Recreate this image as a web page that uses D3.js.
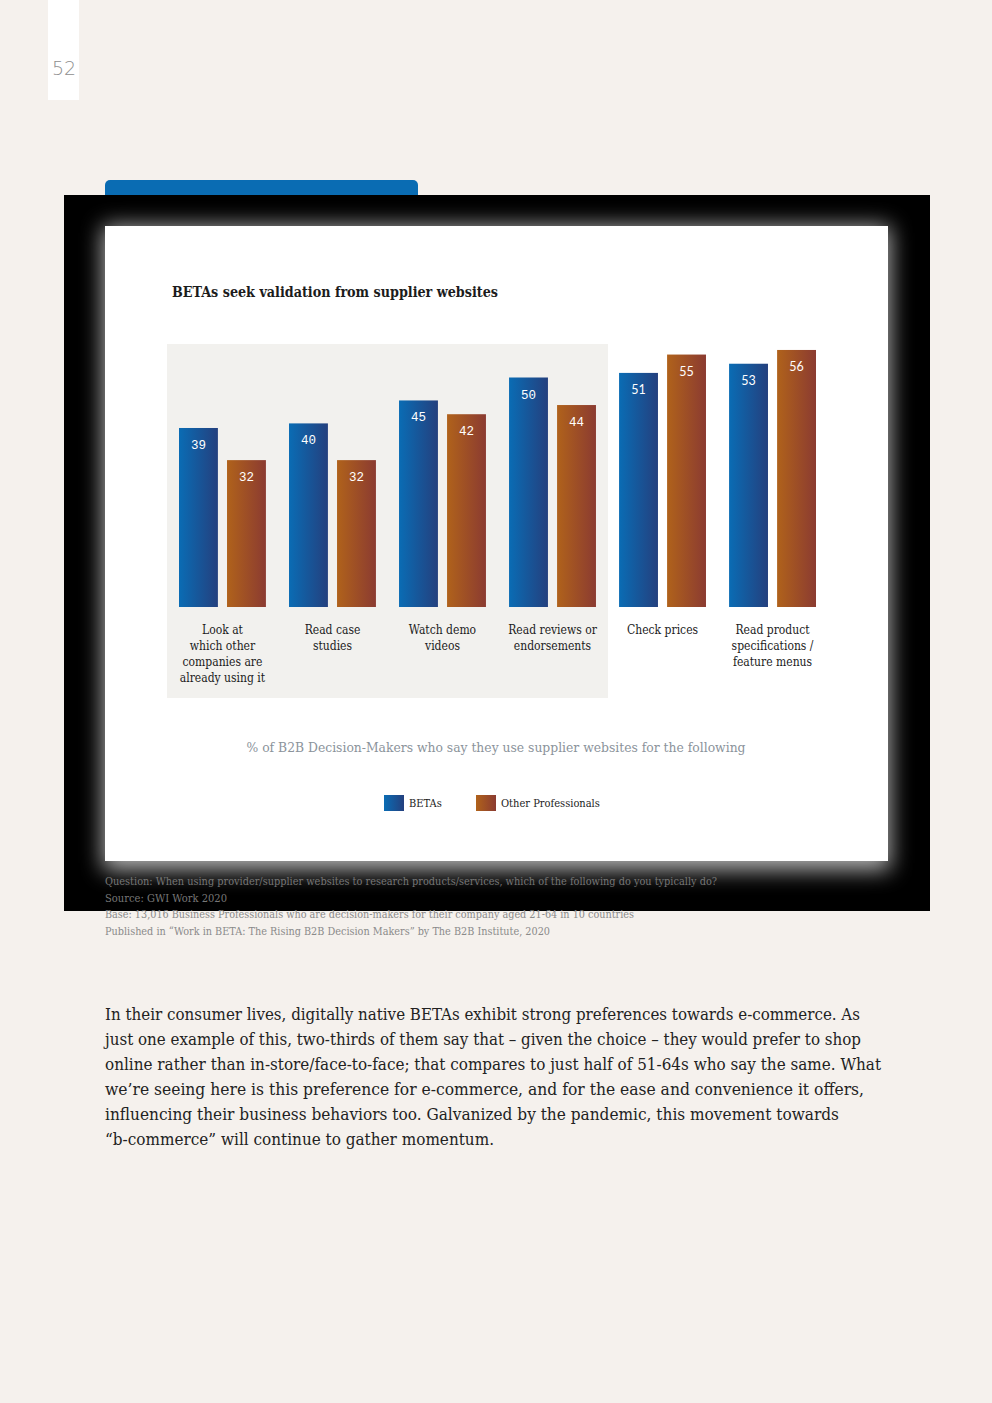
<!DOCTYPE html>
<html>
<head>
<meta charset="utf-8">
<script src="https://cdn.jsdelivr.net/npm/d3@7"></script>
<style>
  body { margin: 0; background: #f5f1ed; }
  svg { display: block; }
  .slab { font-family: "DejaVu Serif", serif; font-stretch: condensed; }
</style>
</head>
<body>
<div id="page"></div>
<script>
// data
const categories = [
  ["Look at", "which other", "companies are", "already using it"],
  ["Read case", "studies"],
  ["Watch demo", "videos"],
  ["Read reviews or", "endorsements"],
  ["Check prices"],
  ["Read product", "specifications /", "feature menus"]
];
const series = ["BETAs", "Other Professionals"];
const betas = [39, 40, 45, 50, 51, 53];
const others = [32, 32, 42, 44, 55, 56];
const highlighted = 4; // first four categories sit on the grey panel

const footnotes = [
  "Question: When using provider/supplier websites to research products/services, which of the following do you typically do?",
  "Source: GWI Work 2020",
  "Base: 13,016 Business Professionals who are decision-makers for their company aged 21-64 in 10 countries",
  "Published in \u201cWork in BETA: The Rising B2B Decision Makers\u201d by The B2B Institute, 2020"
];
const footWidths = [612, 122, 529, 445];

const bodyLines = [
  "In their consumer lives, digitally native BETAs exhibit strong preferences towards e-commerce. As",
  "just one example of this, two-thirds of them say that \u2013 given the choice \u2013 they would prefer to shop",
  "online rather than in-store/face-to-face; that compares to just half of 51-64s who say the same. What",
  "we\u2019re seeing here is this preference for e-commerce, and for the ease and convenience it offers,",
  "influencing their business behaviors too. Galvanized by the pandemic, this movement towards",
  "\u201cb-commerce\u201d will continue to gather momentum."
];
const bodyWidths = [755, 756, 776, 759, 734, 389];

const W = 992, H = 1403;
const svg = d3.select("#page").append("svg").attr("width", W).attr("height", H);

const defs = svg.append("defs");
const grads = [["gBlue", "#0a6cb4", "#24407e"], ["gOrange", "#b0621b", "#8b3b31"]];
grads.forEach(g => {
  let lg = defs.append("linearGradient").attr("id", g[0]).attr("x1", "0").attr("x2", "1").attr("y1", "0").attr("y2", "0");
  lg.append("stop").attr("offset", "0").attr("stop-color", g[1]);
  lg.append("stop").attr("offset", "1").attr("stop-color", g[2]);
});
defs.append("filter").attr("id", "glow").attr("x", "-15%").attr("y", "-15%").attr("width", "130%").attr("height", "135%")
  .append("feGaussianBlur").attr("stdDeviation", 11);

// page number tab
svg.append("rect").attr("x", 48).attr("y", 0).attr("width", 31).attr("height", 100).attr("fill", "#fff");
svg.append("text").attr("x", 52).attr("y", 75).attr("font-family", "DejaVu Sans, sans-serif").attr("font-weight", 300)
  .attr("font-size", 19).attr("fill", "#8e8e8e").text("52");

// blue tab and black frame
svg.append("rect").attr("x", 105).attr("y", 180).attr("width", 313).attr("height", 30).attr("rx", 5).attr("fill", "#0a6cb3");
svg.append("rect").attr("x", 64).attr("y", 195).attr("width", 866).attr("height", 716).attr("fill", "#000");

// white panel with soft glow
svg.append("rect").attr("x", 103).attr("y", 226).attr("width", 787).attr("height", 644)
  .attr("fill", "#fff").attr("opacity", 0.7).attr("filter", "url(#glow)");
svg.append("rect").attr("x", 105).attr("y", 226).attr("width", 783).attr("height", 635).attr("fill", "#fff");

svg.append("text").attr("class", "slab").attr("x", 172).attr("y", 297)
  .attr("font-size", 15).attr("font-weight", "bold").attr("fill", "#1c1c1c")
  .attr("textLength", 326).attr("lengthAdjust", "spacingAndGlyphs")
  .text("BETAs seek validation from supplier websites");

// scales
const x0 = d3.scaleBand().domain(d3.range(categories.length)).range([168, 827]).paddingInner(0.21).paddingOuter(0.1);
const x1 = d3.scaleBand().domain(series).range([0, x0.bandwidth()]).paddingInner(0.19);
const y = d3.scaleLinear().domain([0, 100]).range([607, 148]);

// grey panel behind the first categories
svg.append("rect").attr("x", 167).attr("y", 344)
  .attr("width", x0(highlighted - 1) + x0.bandwidth() + 12 - 167).attr("height", 354).attr("fill", "#f2f1ee");

const rows = categories.map((c, i) => ({ i: i, vals: [betas[i], others[i]] }));
const g = svg.selectAll("g.grp").data(rows).join("g").attr("class", "grp")
  .attr("transform", d => "translate(" + x0(d.i) + ",0)");

g.selectAll("rect").data(d => d.vals.map((v, k) => ({ s: series[k], v: v, k: k, i: d.i }))).join("rect")
  .attr("x", d => x1(d.s)).attr("width", x1.bandwidth())
  .attr("y", d => y(d.v)).attr("height", d => y(0) - y(d.v))
  .attr("fill", d => d.k == 0 ? "url(#gBlue)" : "url(#gOrange)");

g.selectAll("text.val").data(d => d.vals.map((v, k) => ({ s: series[k], v: v, i: d.i }))).join("text")
  .attr("class", "val")
  .attr("x", d => x1(d.s) + x1.bandwidth() / 2).attr("y", d => y(d.v) + 21)
  .attr("text-anchor", "middle").attr("fill", "#fff").attr("font-size", 12.5)
  .attr("font-family", d => d.i < highlighted ? "Liberation Mono, monospace" : "Lato, sans-serif")
  .text(d => d.v);

// category labels
g.append("text").attr("class", "slab").attr("text-anchor", "middle").attr("font-size", 12).attr("fill", "#1c1c1c")
  .selectAll("tspan").data(d => categories[d.i]).join("tspan")
  .attr("x", x0.bandwidth() / 2).attr("y", (d, k) => 634 + k * 16).text(d => d);

// axis caption
svg.append("text").attr("class", "slab").attr("x", 496).attr("y", 752).attr("text-anchor", "middle")
  .attr("font-size", 13).attr("fill", "#8b939b").attr("textLength", 499).attr("lengthAdjust", "spacingAndGlyphs")
  .text("% of B2B Decision-Makers who say they use supplier websites for the following");

// legend
const legX = [384, 476];
series.forEach((s, k) => {
  svg.append("rect").attr("x", legX[k]).attr("y", 795).attr("width", 20).attr("height", 16)
    .attr("fill", k == 0 ? "url(#gBlue)" : "url(#gOrange)");
  svg.append("text").attr("class", "slab").attr("x", legX[k] + 25).attr("y", 807)
    .attr("font-size", 11).attr("fill", "#1c1c1c").text(s);
});

// footnotes
svg.selectAll("text.foot").data(footnotes).join("text").attr("class", "foot slab")
  .attr("x", 105).attr("y", (d, i) => 885 + i * 16.5)
  .attr("font-size", 10.5).attr("fill", (d, i) => i < 2 ? "#777" : "#8a8a8a")
  .attr("textLength", (d, i) => footWidths[i]).attr("lengthAdjust", "spacingAndGlyphs")
  .text(d => d);

// body copy
svg.selectAll("text.body").data(bodyLines).join("text").attr("class", "body slab")
  .attr("x", 105).attr("y", (d, i) => 1020 + i * 25)
  .attr("font-size", 17).attr("fill", "#222")
  .attr("textLength", (d, i) => bodyWidths[i]).attr("lengthAdjust", "spacingAndGlyphs")
  .text(d => d);
</script>
</body>
</html>
